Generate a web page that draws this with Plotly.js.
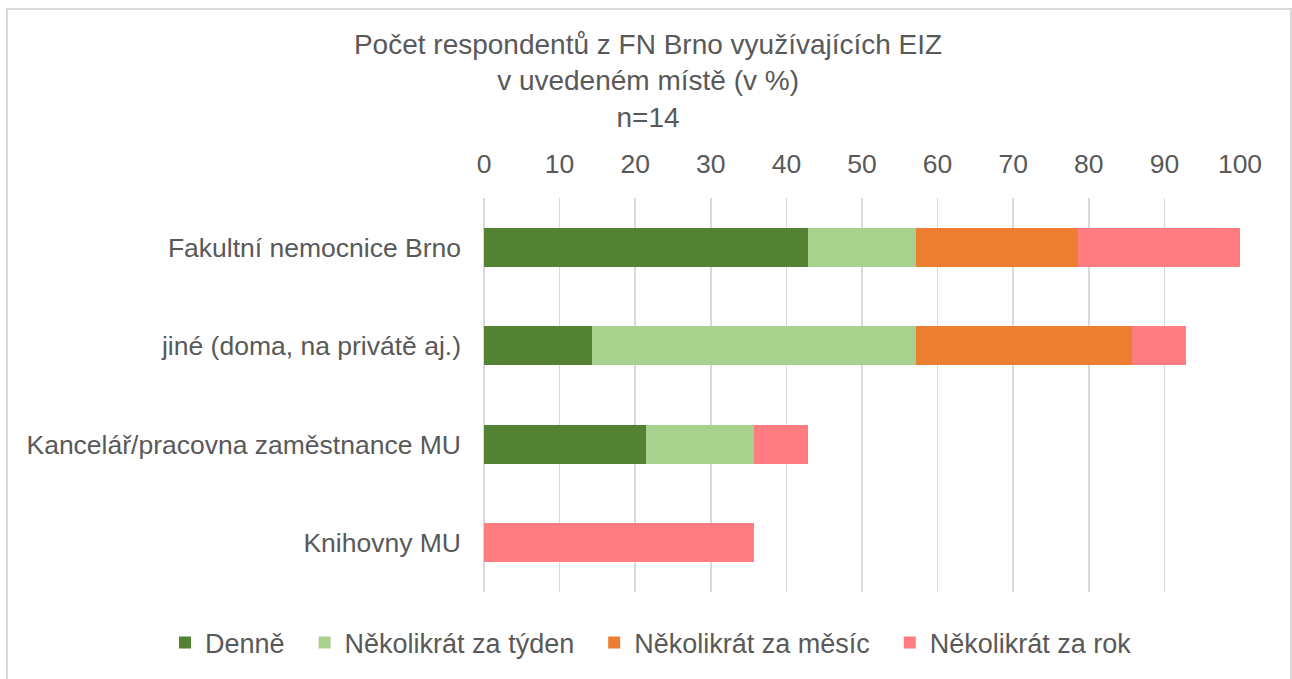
<!DOCTYPE html>
<html>
<head>
<meta charset="utf-8">
<script src="https://cdn.plot.ly/plotly-3.0.1.min.js"></script>
<style>
html,body{margin:0;padding:0;width:1292px;height:679px;overflow:hidden;background:#fff;}
#chart{position:absolute;left:0;top:0;width:1292px;height:679px;}
#frame{position:absolute;left:6px;top:8px;width:1282px;height:700px;border:2px solid #d9d9d9;pointer-events:none;}
</style>
</head>
<body>
<div id="chart"></div>
<div id="frame"></div>
<script>
var categories = ["Fakultní nemocnice Brno", "jiné (doma, na privátě aj.)", "Kancelář/pracovna zaměstnance MU", "Knihovny MU"];
var seriesNames = ["Denně", "Několikrát za týden", "Několikrát za měsíc", "Několikrát za rok"];
var denne = [42.86, 14.29, 21.43, 0];
var tyden = [14.29, 42.86, 14.29, 0];
var mesic = [21.43, 28.57, 0, 0];
var rok = [21.43, 7.14, 7.14, 35.71];
var tickValues = [0, 10, 20, 30, 40, 50, 60, 70, 80, 90, 100];
var colors = ["#548235", "#A9D18E", "#ED7D31", "#FF7C80"];
var values = [denne, tyden, mesic, rok];

var font = "Liberation Sans, Arial, sans-serif";
var textColor = "#595959";
var legendPad = "\u00a0\u00a0";

var traces = values.map(function(v, i){
  return {
    type: "bar",
    orientation: "h",
    name: seriesNames[i] + legendPad,
    y: categories,
    x: v,
    width: 0.4,
    marker: {color: colors[i]},
    hoverinfo: "skip"
  };
});

var layout = {
  width: 1292,
  height: 679,
  barmode: "stack",
  paper_bgcolor: "#fff",
  plot_bgcolor: "#fff",
  margin: {l: 484, r: 52, t: 198, b: 87},
  font: {family: font, color: textColor, size: 26},
  title: {
    text: "Počet respondentů z FN Brno využívajících EIZ<br>v uvedeném místě (v %)<br>n=14",
    font: {family: font, size: 28, color: textColor},
    xref: "container", x: 0.5016, xanchor: "center",
    yref: "container", y: 1 - 54/679, yanchor: "middle"
  },
  xaxis: {
    side: "top",
    range: [0, 100],
    tickvals: tickValues,
    ticktext: tickValues.map(String),
    showgrid: true,
    gridcolor: "#d9d9d9",
    gridwidth: 1.5,
    zeroline: true,
    zerolinecolor: "#d9d9d9",
    zerolinewidth: 1.5,
    showline: false,
    ticks: "",
    ticklabelstandoff: 19,
    tickfont: {family: font, size: 26.5, color: textColor},
    fixedrange: true
  },
  yaxis: {
    type: "category",
    autorange: "reversed",
    showgrid: false,
    zeroline: false,
    showline: false,
    ticks: "",
    ticklabelstandoff: 22,
    tickfont: {family: font, size: 26.5, color: textColor},
    fixedrange: true
  },
  showlegend: true,
  legend: {
    orientation: "h",
    xref: "paper", x: (165 - 484) / 756, xanchor: "left",
    yref: "paper", y: (592 - 643) / 394, yanchor: "middle",
    font: {family: font, size: 27, color: textColor},
    traceorder: "normal",
    itemwidth: 30
  }
};

Plotly.newPlot("chart", traces, layout, {displayModeBar: false, staticPlot: true});
</script>
</body>
</html>
